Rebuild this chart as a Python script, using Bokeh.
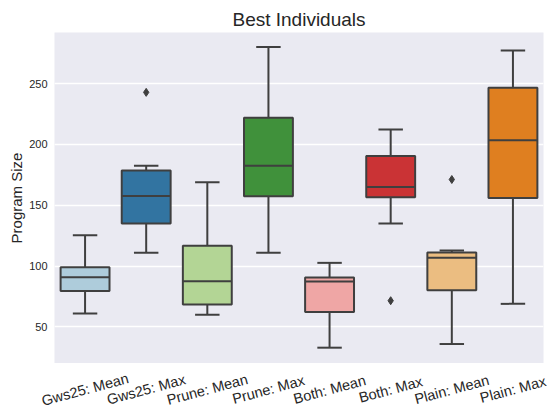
import math
from bokeh.plotting import figure
from bokeh.layouts import column
from bokeh.models import ColumnDataSource, Range1d, FactorRange, FixedTicker
from bokeh.core.properties import value
from bokeh.transform import dodge
from bokeh.embed import file_html
from bokeh.resources import INLINE

categories = ["Gws25: Mean", "Gws25: Max", "Prune: Mean", "Prune: Max",
              "Both: Mean", "Both: Max", "Plain: Mean", "Plain: Max"]
whisker_low = [61, 111, 60, 111, 33, 135, 36, 69]
q1 = [79.6, 135, 68.4, 157.4, 62.3, 156.6, 80.1, 156.1]
median = [90.8, 157.7, 87.5, 182.4, 87.3, 165.1, 106.8, 203.5]
q3 = [99, 178.6, 116.7, 222, 90.6, 190.6, 111.2, 246.7]
whisker_high = [125.4, 182.4, 169, 280, 102.7, 212.3, 112.8, 277.2]
outlier_cats = ["Gws25: Max", "Both: Max", "Plain: Mean"]
outlier_vals = [242.8, 71.6, 171.2]
colors = ["#aeccdb", "#3274a1", "#b3d595", "#40913b",
          "#efa6a5", "#ca3335", "#ebbd81", "#df7f20"]
y_ticks = [50, 100, 150, 200, 250]

FONT = "Liberation Sans"
EDGE = "#3f3f3f"
TXT = "#262626"

W = 547
LEFT, RIGHT, TOP = 54, 4, 32
MAIN_H = 363
LABEL_H = 51

src = ColumnDataSource(dict(cat=categories, lo=whisker_low, q1=q1, med=median,
                            q3=q3, hi=whisker_high, color=colors))
out_src = ColumnDataSource(dict(cat=outlier_cats, val=outlier_vals))

p = figure(width=W, height=MAIN_H, output_backend="svg", toolbar_location=None,
           x_range=FactorRange(*categories, range_padding=0),
           y_range=Range1d(20, 292),
           min_border_left=LEFT, min_border_right=RIGHT, min_border_top=TOP,
           min_border_bottom=0, frame_align=False)

p.title.text = "Best Individuals"
p.title.align = "center"
p.title.text_font = FONT
p.title.text_font_size = "19px"
p.title.text_font_style = "normal"
p.title.text_color = TXT
p.title.standoff = 5

p.background_fill_color = "#eaeaf2"
p.border_fill_color = "white"
p.outline_line_color = None

p.xgrid.grid_line_color = None
p.ygrid.grid_line_color = "white"
p.ygrid.grid_line_width = 1.3

p.xaxis.visible = False

p.yaxis.ticker = FixedTicker(ticks=y_ticks)
p.yaxis.axis_line_color = None
p.yaxis.major_tick_line_color = None
p.yaxis.major_tick_out = 0
p.yaxis.major_tick_in = 0
p.yaxis.minor_tick_line_color = None
p.yaxis.minor_tick_out = 0
p.yaxis.major_label_text_font = FONT
p.yaxis.major_label_text_font_size = "11px"
p.yaxis.major_label_text_color = TXT
p.yaxis.major_label_standoff = 7
p.yaxis.axis_label = "Program Size"
p.yaxis.axis_label_text_font = FONT
p.yaxis.axis_label_text_font_size = "15px"
p.yaxis.axis_label_text_font_style = "normal"
p.yaxis.axis_label_text_color = TXT
p.yaxis.axis_label_standoff = 1

# whiskers
p.segment(x0="cat", y0="q3", x1="cat", y1="hi", source=src, line_color=EDGE, line_width=2)
p.segment(x0="cat", y0="q1", x1="cat", y1="lo", source=src, line_color=EDGE, line_width=2)
# caps
p.segment(x0=dodge("cat", -0.2, range=p.x_range), x1=dodge("cat", 0.2, range=p.x_range),
          y0="hi", y1="hi", source=src, line_color=EDGE, line_width=2)
p.segment(x0=dodge("cat", -0.2, range=p.x_range), x1=dodge("cat", 0.2, range=p.x_range),
          y0="lo", y1="lo", source=src, line_color=EDGE, line_width=2)
# boxes
p.vbar(x="cat", top="q3", bottom="q1", width=0.8, source=src,
       fill_color="color", line_color=EDGE, line_width=2)
# medians
p.segment(x0=dodge("cat", -0.4, range=p.x_range), x1=dodge("cat", 0.4, range=p.x_range),
          y0="med", y1="med", source=src, line_color=EDGE, line_width=2)
# outliers
p.scatter(x="cat", y="val", source=out_src, marker="diamond", size=8,
          fill_color=EDGE, line_color=EDGE)

# strip below the plot holding the rotated category labels, centred under each box
n = len(categories)
unit = (W - LEFT - RIGHT) / n
lab_x = [i + 0.5 for i in range(n)]
lab_src = ColumnDataSource(dict(x=lab_x, text=categories))
p2 = figure(width=W, height=LABEL_H, output_backend="svg", toolbar_location=None,
            x_range=Range1d(-LEFT / unit, n + RIGHT / unit),
            y_range=Range1d(-LABEL_H, 0),
            min_border=0, frame_align=False)
p2.axis.visible = False
p2.grid.visible = False
p2.outline_line_color = None
p2.background_fill_color = "white"
p2.text(x="x", y=-26, text="text", source=lab_src,
        angle=15 * math.pi / 180, text_align="center", text_baseline="middle",
        text_font=value(FONT), text_font_size="14.5px", text_color=TXT)

layout = column(p, p2, spacing=0)
open("out.html", "w").write(file_html(layout, INLINE))
